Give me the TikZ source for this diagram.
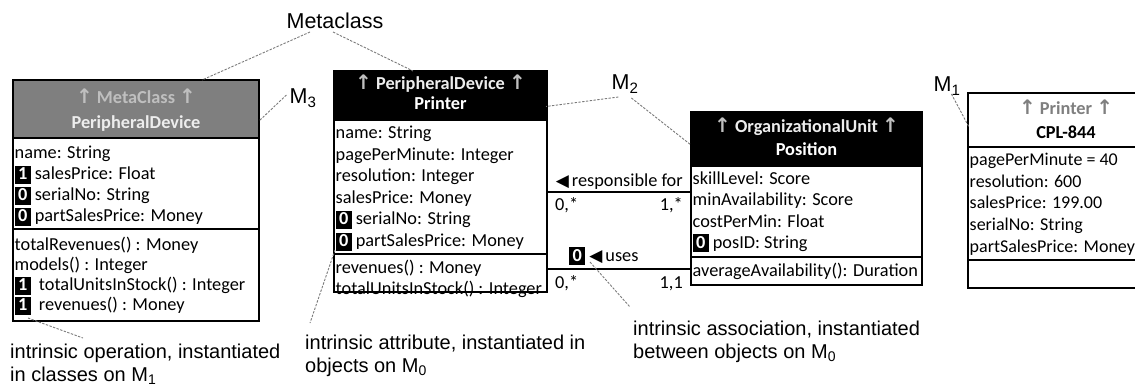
\documentclass[tikz,border=0pt]{standalone}
\usepackage{fontspec}
\setmainfont{Carlito}
\newfontfamily\notefont{Liberation Sans}
\newfontfamily\symfont{DejaVu Sans}
\usetikzlibrary{calc}

\definecolor{hdgray}{HTML}{7F7F7F}
\definecolor{mutedtxt}{HTML}{BFBFBF}
\definecolor{softwhite}{HTML}{EDEDED}
\definecolor{leadgray}{HTML}{7A7A7A}

\newcommand\umlfont{\fontsize{18.3}{21.3}\selectfont}
\newcommand\objfont{\fontsize{18}{21.3}\selectfont}
\newcommand\notesize{\fontsize{20}{23}\selectfont}
\newcommand\uarr{{\symfont\fontsize{20}{20}\selectfont ↑}}
\newcommand\ltri{{\symfont\fontsize{17}{17}\selectfont ◀}}
% black level badge with a white digit
\newcommand\lvl[1]{{\setlength{\fboxsep}{0pt}\colorbox{black}{\raisebox{0pt}[14pt][4pt]{\makebox[16pt]{\color{white}\bfseries #1}}}}}

\begin{document}
\begin{tikzpicture}[x=1pt,y=-1pt,
  cls/.style={draw=black, line width=1.2pt, anchor=north west, inner sep=0pt, outer sep=0pt},
  row/.style={anchor=base west, inner sep=0pt, font=\umlfont},
  hd/.style={anchor=base, inner sep=0pt, font=\umlfont\bfseries},
  note/.style={anchor=base west, inner sep=0pt, font=\notefont\notesize},
  lbl/.style={anchor=center, inner sep=0pt, font=\notefont\fontsize{21.5}{21.5}\selectfont},
  lead/.style={draw=leadgray, line width=0.9pt, dash pattern=on 2.4pt off 1.4pt},
  assoc/.style={draw=black, line width=1.2pt}]
\useasboundingbox (0,0) rectangle (1135,389);
\clip (0,0) rectangle (1135,389);

% ---- metaclass PeripheralDevice
\node[cls, fill=hdgray, minimum width=246pt, minimum height=58pt] (pdHead) at (13,80) {};
\node[cls, minimum width=246pt, minimum height=91pt] (pdAttr) at (13,138) {};
\node[cls, minimum width=246pt, minimum height=92pt] (pdOps) at (13,229) {};
\node[hd, text=mutedtxt] (pdMeta) at (136,103) {\uarr\ MetaClass \uarr};
\node[hd, text=softwhite] (pdName) at (136,128) {PeripheralDevice};
\foreach \t [count=\i from 0] in {{name: String},{\lvl{1} salesPrice: Float},{\lvl{0} serialNo: String},{\lvl{0} partSalesPrice: Money}}
  \node[row] (pdA\i) at (14.5,{158.5+21*\i}) {\t};
\foreach \t [count=\i from 0] in {{totalRevenues() : Money},{models() : Integer},{\lvl{1}\ \ totalUnitsInStock() : Integer},{\lvl{1}\ \ revenues() : Money}}
  \node[row] (pdO\i) at (14.5,{250.5+20*\i}) {\t};

% ---- class Printer
\node[cls, fill=black, minimum width=213pt, minimum height=49pt] (prHead) at (334,71) {};
\node[cls, minimum width=213pt, minimum height=134pt] (prAttr) at (334,120) {};
\node[cls, minimum width=213pt, minimum height=38pt] (prOps) at (334,254) {};
\node[hd, text=softwhite] (prMeta) at (440.5,89) {{\color{mutedtxt}\uarr}\ PeripheralDevice {\color{mutedtxt}\uarr}};
\node[hd, text=white] (prName) at (440.5,109) {Printer};
\foreach \t [count=\i from 0] in {{name: String},{pagePerMinute: Integer},{resolution: Integer},{salesPrice: Money},{\lvl{0}\ serialNo: String},{\lvl{0}\ partSalesPrice: Money}}
  \node[row] (prA\i) at (335.5,{138.5+21.6*\i}) {\t};
\foreach \t [count=\i from 0] in {{revenues() : Money},{totalUnitsInStock() : Integer}}
  \node[row] (prO\i) at (335.5,{273.5+21*\i}) {\t};

% ---- class Position
\node[cls, fill=black, minimum width=231pt, minimum height=54pt] (posHead) at (691,112) {};
\node[cls, minimum width=231pt, minimum height=91pt] (posAttr) at (691,166) {};
\node[cls, minimum width=231pt, minimum height=28pt] (posOps) at (691,257) {};
\node[hd, text=softwhite] (posMeta) at (806.5,132) {{\color{mutedtxt}\uarr}\ OrganizationalUnit {\color{mutedtxt}\uarr}};
\node[hd, text=white] (posName) at (806.5,155) {Position};
\foreach \t [count=\i from 0] in {{skillLevel: Score},{minAvailability: Score},{costPerMin: Float},{\lvl{0} posID: String}}
  \node[row] (posA\i) at (692.5,{184.5+21.3*\i}) {\t};
\node[row] (posO0) at (692.5,276.5) {averageAvailability(): Duration};

% ---- object CPL-844 (runs past the right edge)
\node[cls, minimum width=200pt, minimum height=54pt] (cplHead) at (968,93) {};
\node[cls, minimum width=200pt, minimum height=113pt] (cplAttr) at (968,147) {};
\node[cls, minimum width=200pt, minimum height=28pt] (cplOps) at (968,260) {};
\node[hd, text=hdgray] (cplMeta) at (1066,114) {\uarr\ Printer \uarr};
\node[hd, text=black] (cplName) at (1066,138) {CPL-844};
\foreach \t [count=\i from 0] in {{pagePerMinute = 40},{resolution: 600},{salesPrice: 199.00},{serialNo: String},{partSalesPrice: Money}}
  \node[row, font=\objfont] (cplA\i) at (969.5,{165.5+21.7*\i}) {\t};

% ---- associations between Printer and Position
\draw[assoc] (prAttr.east |- 0,192) -- (posAttr.west |- 0,192);
\draw[assoc] (prAttr.east |- 0,269) -- (posAttr.west |- 0,269);
\node[row, anchor=base east] (respLbl) at (683,186) {\ltri\,responsible for};
\node[row] (respL) at (555,210) {0,*};
\node[row, anchor=base east] (respR) at (683,210) {1,*};
\node[row] (usesLbl) at (569,261) {\lvl{0} \ltri\,uses};
\node[row] (usesL) at (555,288) {0,*};
\node[row, anchor=base east] (usesR) at (683,288) {1,1};

% ---- level labels
\node[lbl] (meta) at (335,21) {Metaclass};
\node[lbl] (m3) at (303,98) {M\textsubscript{3}};
\node[lbl] (m2) at (625,84) {M\textsubscript{2}};
\node[lbl] (m1) at (947,86) {M\textsubscript{1}};

% ---- annotations
\node[note] (opNote1) at (10,358.6) {intrinsic operation, instantiated};
\node[note] (opNote2) at (10,381.6) {in classes on M\textsubscript{1}};
\node[note] (atNote1) at (305,349.6) {intrinsic attribute, instantiated in};
\node[note] (atNote2) at (305,372.6) {objects on M\textsubscript{0}};
\node[note] (asNote1) at (633,335) {intrinsic association, instantiated};
\node[note] (asNote2) at (633,358) {between objects on M\textsubscript{0}};

\coordinate (opEnd) at (83,338);
\coordinate (atEnd) at (310,323);
\coordinate (asEnd) at (630,307);

% ---- dashed leaders
\draw[lead] (310,32) -- ($(pdHead.north west)+(189,0)$);
\draw[lead] (333,32) -- ($(prHead.north west)+(79,0)$);
\draw[lead] ($(m3.west)+(-3,-3)$) -- ($(pdHead.east)+(0,12)$);
\draw[lead] ($(m2.west)+(7,13)$) -- ($(prHead.east)+(-1,11)$);
\draw[lead] ($(m2.west)+(20,14)$) -- ($(posHead.west)+(0,6)$);
\draw[lead] ($(m1.west)+(18,8)$) -- ($(cplHead.west)+(1,7)$);
\draw[lead] ($(pdOps.south west)+(15,-3)$) -- (opEnd);
\draw[lead] ($(prAttr.south west)+(1,-4)$) -- (atEnd);
\draw[lead] ($(usesLbl.base west)+(21,1)$) -- (asEnd);
\end{tikzpicture}
\end{document}
